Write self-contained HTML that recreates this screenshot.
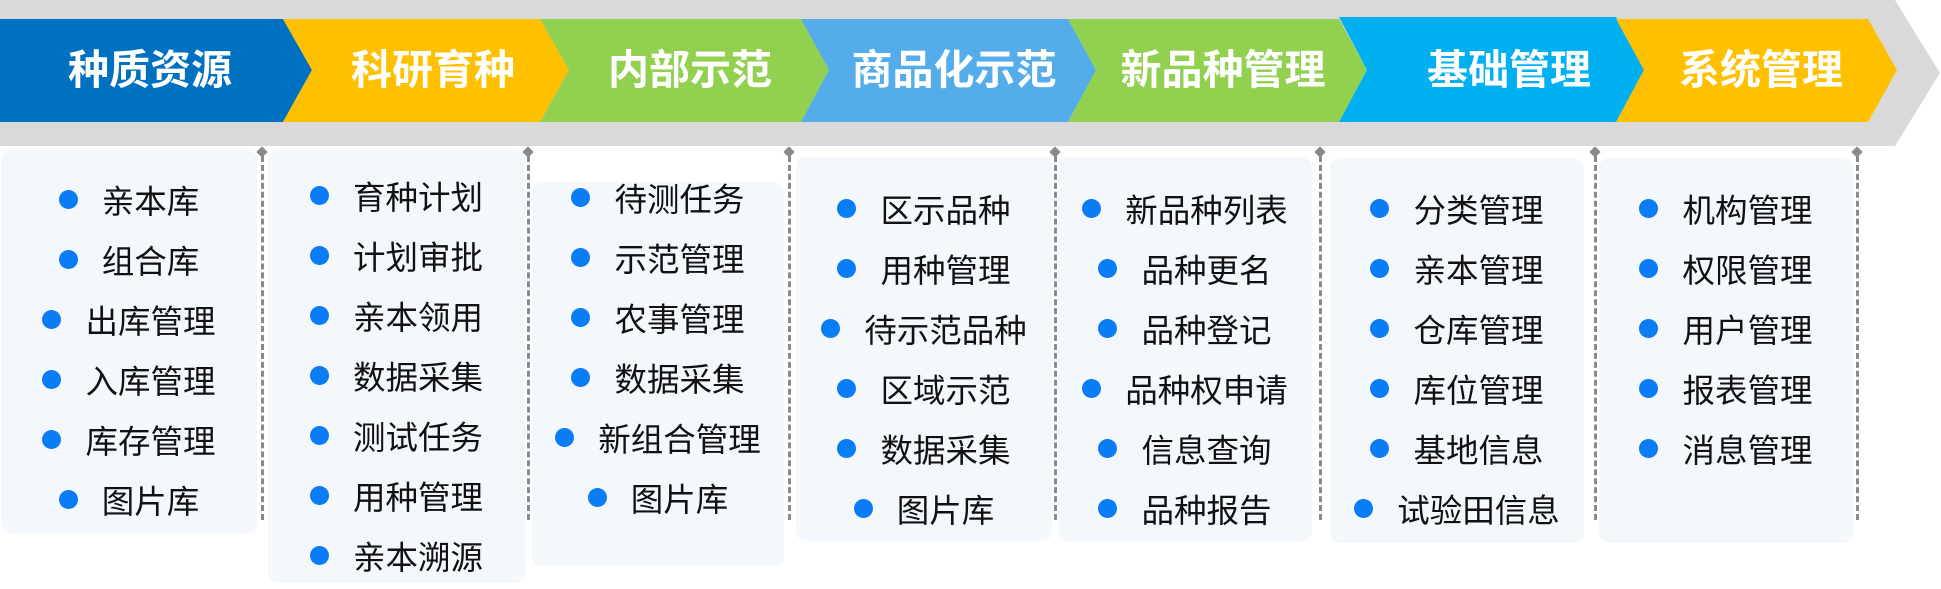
<!DOCTYPE html>
<html><head><meta charset="utf-8"><style>
body{margin:0;width:1941px;height:589px;background:#fff;position:relative;overflow:hidden;font-family:"Liberation Sans","Noto Sans CJK SC",sans-serif}
.card{position:absolute;background:#F4F8FC;border-radius:10px}
.list{position:absolute;display:flex;flex-direction:column;align-items:center}
.row{height:60px;display:flex;align-items:center;font-size:32.5px;color:#111;white-space:nowrap}
.row::before{content:"";width:19px;height:19px;border-radius:50%;background:#0A7CF5;margin-right:24px;flex:none}
.dash{position:absolute;top:156px;height:364px;border-left:3px dashed #8a8a8a;width:0}
.dia{position:absolute;top:148px;width:8px;height:8px;background:#8a8a8a;transform:rotate(45deg)}
</style></head><body>
<svg width="1941" height="146" style="position:absolute;left:0;top:0">
<polygon points="0,0 1895,0 1940,73 1895,146 0,146" fill="#D9D9D9"/>
<polygon points="0,19 283,19 312,70 283,122 0,122" fill="#0070C0"/>
<polygon points="283,19 540,19 569,70 540,122 283,122 312,70" fill="#FFC000"/>
<polygon points="540,19 801,19 829,70 801,122 540,122 569,70" fill="#92D050"/>
<polygon points="801,19 1068,19 1096,70 1068,122 801,122 829,70" fill="#55ACEA"/>
<polygon points="1068,19 1339,19 1367,70 1339,122 1068,122 1096,70" fill="#92D050"/>
<polygon points="1339,17 1616,17 1644,70 1616,122 1339,122 1367,70" fill="#00B0F0"/>
<polygon points="1616,19 1868,19 1897,70 1868,122 1616,122 1644,70" fill="#FFC000"/>
<g font-family="Liberation Sans, Noto Sans CJK SC, sans-serif" font-size="41" font-weight="bold" fill="#fff" text-anchor="middle">
<text x="150" y="84">种质资源</text>
<text x="433" y="84">科研育种</text>
<text x="690" y="84">内部示范</text>
<text x="954" y="84">商品化示范</text>
<text x="1223" y="84">新品种管理</text>
<text x="1509" y="84">基础管理</text>
<text x="1761" y="84">系统管理</text>
</g></svg>

<div class="card" style="left:1px;top:150px;width:256px;height:383px"></div>
<div class="card" style="left:268px;top:150px;width:257px;height:433px"></div>
<div class="card" style="left:532px;top:182px;width:252px;height:384px"></div>
<div class="card" style="left:796px;top:157px;width:256px;height:384px"></div>
<div class="card" style="left:1058px;top:157px;width:254px;height:384px"></div>
<div class="card" style="left:1330px;top:158px;width:254px;height:385px"></div>
<div class="card" style="left:1599px;top:158px;width:254px;height:385px"></div>

<div class="dash" style="left:261px"></div><div class="dia" style="left:258px"></div>
<div class="dash" style="left:527px"></div><div class="dia" style="left:524px"></div>
<div class="dash" style="left:788px"></div><div class="dia" style="left:785px"></div>
<div class="dash" style="left:1054px"></div><div class="dia" style="left:1051px"></div>
<div class="dash" style="left:1319px"></div><div class="dia" style="left:1316px"></div>
<div class="dash" style="left:1594px"></div><div class="dia" style="left:1591px"></div>
<div class="dash" style="left:1856px"></div><div class="dia" style="left:1853px"></div>

<div class="list" style="left:1px;width:256px;top:169px">
<div class="row">亲本库</div><div class="row">组合库</div><div class="row">出库管理</div><div class="row">入库管理</div><div class="row">库存管理</div><div class="row">图片库</div></div>
<div class="list" style="left:268px;width:257px;top:165px">
<div class="row">育种计划</div><div class="row">计划审批</div><div class="row">亲本领用</div><div class="row">数据采集</div><div class="row">测试任务</div><div class="row">用种管理</div><div class="row">亲本溯源</div></div>
<div class="list" style="left:532px;width:252px;top:167px">
<div class="row">待测任务</div><div class="row">示范管理</div><div class="row">农事管理</div><div class="row">数据采集</div><div class="row">新组合管理</div><div class="row">图片库</div></div>
<div class="list" style="left:796px;width:256px;top:178px">
<div class="row">区示品种</div><div class="row">用种管理</div><div class="row">待示范品种</div><div class="row">区域示范</div><div class="row">数据采集</div><div class="row">图片库</div></div>
<div class="list" style="left:1058px;width:254px;top:178px">
<div class="row">新品种列表</div><div class="row">品种更名</div><div class="row">品种登记</div><div class="row">品种权申请</div><div class="row">信息查询</div><div class="row">品种报告</div></div>
<div class="list" style="left:1330px;width:254px;top:178px">
<div class="row">分类管理</div><div class="row">亲本管理</div><div class="row">仓库管理</div><div class="row">库位管理</div><div class="row">基地信息</div><div class="row">试验田信息</div></div>
<div class="list" style="left:1599px;width:254px;top:178px">
<div class="row">机构管理</div><div class="row">权限管理</div><div class="row">用户管理</div><div class="row">报表管理</div><div class="row">消息管理</div></div>
</body></html>
